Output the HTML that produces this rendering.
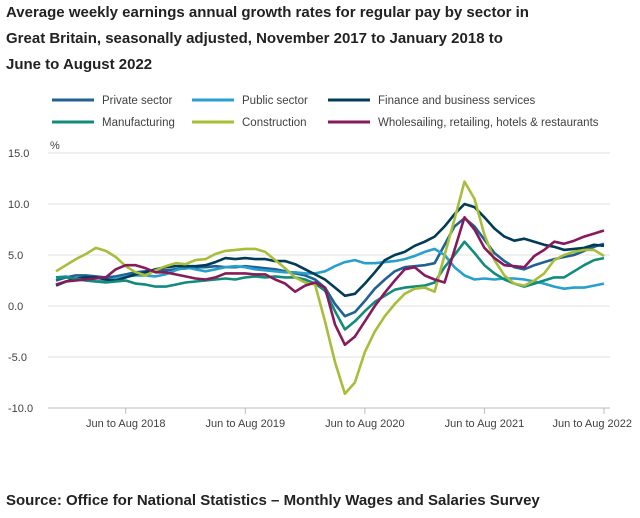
<!DOCTYPE html>
<html><head><meta charset="utf-8"><style>
body{margin:0;background:#fff;width:640px;height:518px;overflow:hidden;font-family:"Liberation Sans",sans-serif}
svg{position:absolute;left:0;top:0}
</style></head><body>
<svg width="640" height="518">
<g font-weight="bold" font-size="15" fill="#222">
<text x="6" y="17">Average weekly earnings annual growth rates for regular pay by sector in</text>
<text x="6" y="43">Great Britain, seasonally adjusted, November 2017 to January 2018 to</text>
<text x="6" y="69">June to August 2022</text>
</g>
<g id="legend" font-size="11.5" fill="#414042"></g>
<g id="grid"></g>
<g id="lines"></g>
<text x="6" y="505" font-weight="bold" font-size="15" fill="#222">Source: Office for National Statistics – Monthly Wages and Salaries Survey</text>
</svg>
<script>
const xLabels=["Jun to Aug 2018","Jun to Aug 2019","Jun to Aug 2020","Jun to Aug 2021","Jun to Aug 2022"];
const xLabelIdx=[7,19,31,43,55];
const yTicks=[15,10,5,0,-5,-10];
const seriesNames=["Private sector","Public sector","Finance and business services","Manufacturing","Construction","Wholesailing, retailing, hotels & restaurants"];
const seriesColors=["#206095","#27a0cc","#003c57","#118c7b","#a8bd3a","#871a5b"];
const privateSector=[2.5,2.8,3.0,3.0,2.9,2.8,2.9,3.1,3.3,3.4,3.5,3.5,3.6,3.7,3.8,3.8,3.9,3.8,3.8,3.9,3.8,3.7,3.6,3.4,3.2,3.0,2.6,1.8,0.2,-1.0,-0.6,0.5,1.7,2.6,3.4,3.8,3.9,4.0,4.2,6.0,7.8,8.6,7.8,6.5,5.2,4.4,3.8,3.6,4.0,4.3,4.6,4.8,5.0,5.4,5.8,6.1];
const publicSector=[2.8,2.9,2.6,2.5,2.4,2.5,2.7,2.9,3.0,3.0,2.9,3.1,3.5,3.8,3.6,3.4,3.6,3.8,3.9,3.8,3.6,3.5,3.4,3.3,3.3,3.2,3.2,3.4,3.9,4.3,4.5,4.2,4.2,4.3,4.4,4.6,4.9,5.3,5.6,5.0,3.8,3.0,2.6,2.7,2.6,2.7,2.7,2.6,2.4,2.2,1.9,1.7,1.8,1.8,2.0,2.2];
const finance=[2.0,2.4,2.7,2.8,2.8,2.6,2.5,2.8,3.1,3.3,3.6,3.8,3.9,3.9,3.9,4.0,4.3,4.7,4.6,4.7,4.6,4.6,4.4,4.4,4.1,3.6,3.1,2.6,1.8,1.0,1.2,2.2,3.3,4.5,5.0,5.3,5.9,6.3,6.8,7.8,9.0,10.0,9.7,8.7,7.6,6.8,6.4,6.6,6.3,6.0,5.8,5.5,5.6,5.7,6.0,5.9];
const manufacturing=[2.8,2.8,2.7,2.5,2.4,2.3,2.4,2.5,2.2,2.1,1.9,1.9,2.1,2.3,2.4,2.5,2.6,2.7,2.6,2.8,2.9,2.8,2.9,2.8,2.8,2.6,2.2,1.5,-0.5,-2.3,-1.5,-0.5,0.4,1.0,1.6,1.8,1.9,2.0,2.3,3.8,5.0,6.3,5.2,4.0,3.2,2.6,2.2,1.9,2.2,2.5,2.8,2.8,3.4,4.0,4.5,4.7];
const construction=[3.4,4.0,4.6,5.1,5.7,5.4,4.8,3.9,3.3,3.0,3.5,3.9,4.2,4.1,4.5,4.6,5.1,5.4,5.5,5.6,5.6,5.3,4.5,3.7,2.8,2.3,2.1,-1.5,-5.5,-8.6,-7.5,-4.5,-2.5,-1.0,0.2,1.2,1.7,1.8,1.4,5.0,8.5,12.2,10.5,7.0,4.5,3.0,2.2,2.0,2.5,3.2,4.5,5.0,5.3,5.5,5.5,4.9];
const wholesale=[2.1,2.4,2.5,2.6,2.7,2.8,3.6,4.0,4.0,3.7,3.3,3.3,3.1,2.9,2.7,2.6,2.8,3.2,3.2,3.2,3.1,3.1,2.6,2.2,1.4,2.0,2.3,1.8,-1.8,-3.8,-3.0,-1.5,0.0,1.3,2.5,3.6,3.8,3.0,2.6,2.3,5.5,8.7,7.5,5.7,4.7,4.0,3.9,3.8,4.9,5.5,6.3,6.1,6.4,6.8,7.1,7.4];
const allSeries=[privateSector,publicSector,finance,manufacturing,construction,wholesale];
const NS="http://www.w3.org/2000/svg";
const X=i=>56+i*(604-56)/55;
const Y=v=>306-v*10.2;
function mk(t,a,p){const e=document.createElementNS(NS,t);for(const k in a)e.setAttribute(k,a[k]);p.appendChild(e);return e;}
const grid=document.getElementById('grid');
yTicks.forEach(v=>{
 const l=mk('line',{x1:48,x2:610,y1:Y(v),y2:Y(v),stroke:v===-10?'#bbb':'#e0e0e0','stroke-width':1},grid);
 
 
 const t=mk('text',{x:8,y:Y(v)+4,'font-size':11,fill:'#414042'},grid);
 t.textContent=v.toFixed(1);
 
 
});
const pu=mk('text',{x:50,y:149,'font-size':11,fill:'#414042'},grid);pu.textContent='%';


xLabels.forEach((s,k)=>{
 const x=X(xLabelIdx[k]);
 const last=k===xLabels.length-1;
 const tk=mk('line',{x1:x,x2:x,y1:Y(-10),y2:Y(-10)+6,stroke:'#bbb'},grid);
 
 
 const t=mk('text',{x:last?632:x,y:Y(-10)+19,'font-size':11,fill:'#414042','text-anchor':last?'end':'middle'},grid);
 t.textContent=s;
 
 
});
const lines=document.getElementById('lines');
allSeries.forEach((d,s)=>{
 const p=mk('polyline',{points:d.map((v,i)=>X(i).toFixed(1)+','+Y(v).toFixed(1)).join(' '),fill:'none',stroke:seriesColors[s],'stroke-width':2.6,'stroke-linejoin':'round'},lines);
 
 
});
const lg=document.getElementById('legend');
const lx=[52,192,328,52,192,328],ly=[100,100,100,122,122,122];
seriesNames.forEach((n,s)=>{
 const g=mk('g',{},lg);
 
 
 mk('line',{x1:lx[s],x2:lx[s]+42,y1:ly[s],y2:ly[s],stroke:seriesColors[s],'stroke-width':3},g);
 const t=mk('text',{x:lx[s]+50,y:ly[s]+4},g);t.textContent=n;
});
</script>
</body></html>
